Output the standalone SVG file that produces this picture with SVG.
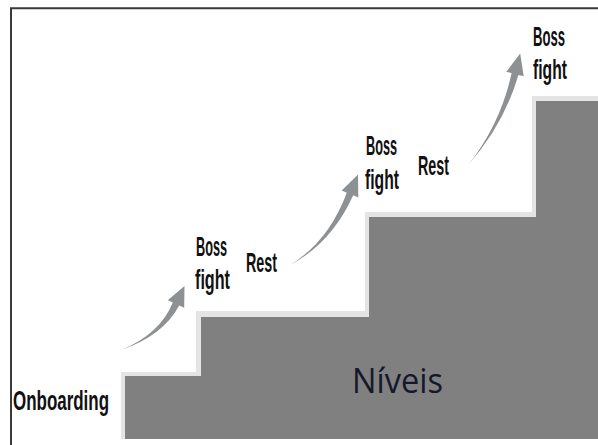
<svg xmlns="http://www.w3.org/2000/svg" width="598" height="445" viewBox="0 0 598 445">
  <style>
    .lbl { font-family: "Liberation Sans", Arial, sans-serif; font-weight: bold; font-size: 28px; fill: #111; }
    .title { font-family: "Open Sans", "Noto Sans", sans-serif; font-size: 34px; fill: #16182a; }
    .arrow { fill: #8e9193; }
  </style>
  <rect x="0" y="0" width="598" height="445" fill="#ffffff"/>

  <!-- frame: left and top edges -->
  <path d="M11,445 V8.3 H598" fill="none" stroke="#3a3a3a" stroke-width="2"/>

  <!-- staircase -->
  <g id="stairs">
    <polygon points="121,439 121,372 196,372 196,311 365,311 365,212 532,212 532,96 598,96 598,439" fill="#e4e4e4"/>
    <polygon points="125,439 125,376 201,376 201,317 369,317 369,217 536,217 536,101 598,101 598,439" fill="#808080"/>
    <text class="title" x="352" y="393" textLength="91" lengthAdjust="spacingAndGlyphs">Níveis</text>
  </g>

  <g id="onboarding">
    <text class="lbl" x="13" y="410" textLength="96" lengthAdjust="spacingAndGlyphs">Onboarding</text>
  </g>

  <g id="boss1">
    <text class="lbl" x="196" y="256" textLength="31" lengthAdjust="spacingAndGlyphs">Boss</text>
    <text class="lbl" x="195" y="289" textLength="35" lengthAdjust="spacingAndGlyphs">fight</text>
  </g>
  <g id="rest1">
    <text class="lbl" x="246" y="272" textLength="31" lengthAdjust="spacingAndGlyphs">Rest</text>
  </g>

  <g id="boss2">
    <text class="lbl" x="366" y="155" textLength="31" lengthAdjust="spacingAndGlyphs">Boss</text>
    <text class="lbl" x="365" y="189" textLength="34" lengthAdjust="spacingAndGlyphs">fight</text>
  </g>
  <g id="rest2">
    <text class="lbl" x="418" y="175" textLength="31" lengthAdjust="spacingAndGlyphs">Rest</text>
  </g>

  <g id="boss3">
    <text class="lbl" x="533" y="46" textLength="32" lengthAdjust="spacingAndGlyphs">Boss</text>
    <text class="lbl" x="533" y="79" textLength="34" lengthAdjust="spacingAndGlyphs">fight</text>
  </g>

  <!-- tapered curved arrows -->
  <g id="connectors">
    <path class="arrow" d="M121,350 Q163.1,335.7 179.2,305.5 L184.2,307.8 L184.5,285.9 L167.8,300.2 L172.8,302.5 Q159.9,334.3 121,350 Z"/>
    <path class="arrow" d="M290,265 Q331.6,243.2 353.2,195.3 L358.3,197.4 L358,174.6 L341.7,190.6 L346.8,192.7 Q328.4,241.8 290,265 Z"/>
    <path class="arrow" d="M468,165 Q503.7,125.4 518.4,74.9 L523.7,76.2 L520.2,53.6 L506.3,71.8 L511.6,73.1 Q500.3,124.6 468,165 Z"/>
  </g>
</svg>
